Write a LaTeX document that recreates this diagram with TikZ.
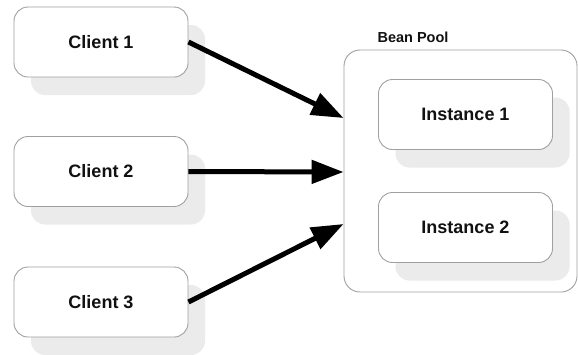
\documentclass[tikz,border=0pt]{standalone}
\usepackage{fontspec}
\setmainfont{Liberation Sans}
\usetikzlibrary{arrows.meta,shadows}
\definecolor{edgegray}{HTML}{A0A0A0}
\definecolor{shadegray}{HTML}{EBEBEB}
\definecolor{inkblack}{HTML}{111111}
\tikzset{
  card/.style={draw=edgegray, line width=0.9pt, fill=white, rounded corners=14pt,
    minimum width=174pt, minimum height=70pt, inner sep=0pt,
    font=\fontsize{18}{21}\selectfont\bfseries, text=inkblack,
    drop shadow={shadow xshift=17pt, shadow yshift=-18pt, fill=shadegray, opacity=1}},
  poolbox/.style={draw=edgegray, line width=0.9pt, fill=white, rounded corners=16pt,
    minimum width=233pt, minimum height=242pt, inner sep=0pt},
  flow/.style={line width=5pt, -{Triangle[length=32pt,width=23pt]}, draw=black}
}
\begin{document}
\begin{tikzpicture}[x=1pt,y=-1pt]
  \useasboundingbox (0,0) rectangle (578,354);
  % container for the pooled instances
  \node[poolbox] (pool) at (460.5,171) {};
  \node[anchor=west, font=\fontsize{14.5}{17}\selectfont\bfseries, text=inkblack]
    (poollabel) at (374,37) {Bean Pool};
  \node[card] (i1) at (465.5,114.5) {Instance 1};
  \node[card] (i2) at (465.5,227.5) {Instance 2};
  % clients
  \node[card] (c1) at (101,42) {Client 1};
  \node[card] (c2) at (101,171.5) {Client 2};
  \node[card] (c3) at (101,302) {Client 3};
  % arrow targets on the pool's left side
  \path (pool.west) ++(0,-53) coordinate (p1);
  \path (pool.west) ++(0,1) coordinate (p2);
  \path (pool.west) ++(0,53) coordinate (p3);
  \draw[flow] (c1.east) -- (p1);
  \draw[flow] (c2.east) -- (p2);
  \draw[flow] (c3.east) -- (p3);
\end{tikzpicture}
\end{document}
